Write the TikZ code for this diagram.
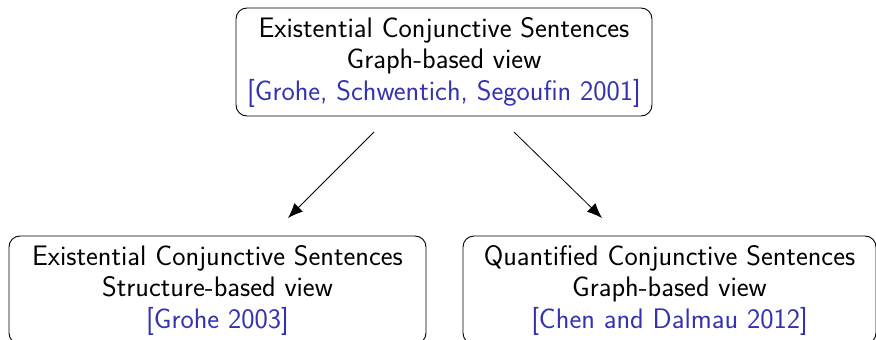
\documentclass[tikz,border=0pt]{standalone}
\usepackage{fontspec}
\usetikzlibrary{arrows.meta}
\definecolor{citeblue}{RGB}{51,51,178}
\begin{document}
\begin{tikzpicture}[x=1pt,y=-1pt,
  box/.style={draw=black, line width=0.9pt, rounded corners=11pt,
    minimum width=416pt, minimum height=108pt, inner sep=0pt,
    align=center, font=\sffamily\fontsize{28.2}{31.5}\selectfont},
  arr/.style={line width=0.8pt, -{Latex[length=15pt,width=12pt]}}]
\useasboundingbox (0,0) rectangle (876,340);
\node[box] (top) at (444,62) {Existential Conjunctive Sentences\\Graph-based view\\\textcolor{citeblue}{[Grohe, Schwentich, Segoufin 2001]}};
\node[box, minimum width=417pt] (left) at (217.5,290) {Existential Conjunctive Sentences\\Structure-based view\\\textcolor{citeblue}{[Grohe 2003]}};
\node[box, minimum width=413pt] (right) at (669.5,290) {Quantified Conjunctive Sentences\\Graph-based view\\\textcolor{citeblue}{[Chen and Dalmau 2012]}};
\coordinate (a1) at (374,132);
\coordinate (a2) at (288,218);
\coordinate (b1) at (514,132);
\coordinate (b2) at (602,218);
\draw[arr] (a1) -- (a2);
\draw[arr] (b1) -- (b2);
\end{tikzpicture}
\end{document}
